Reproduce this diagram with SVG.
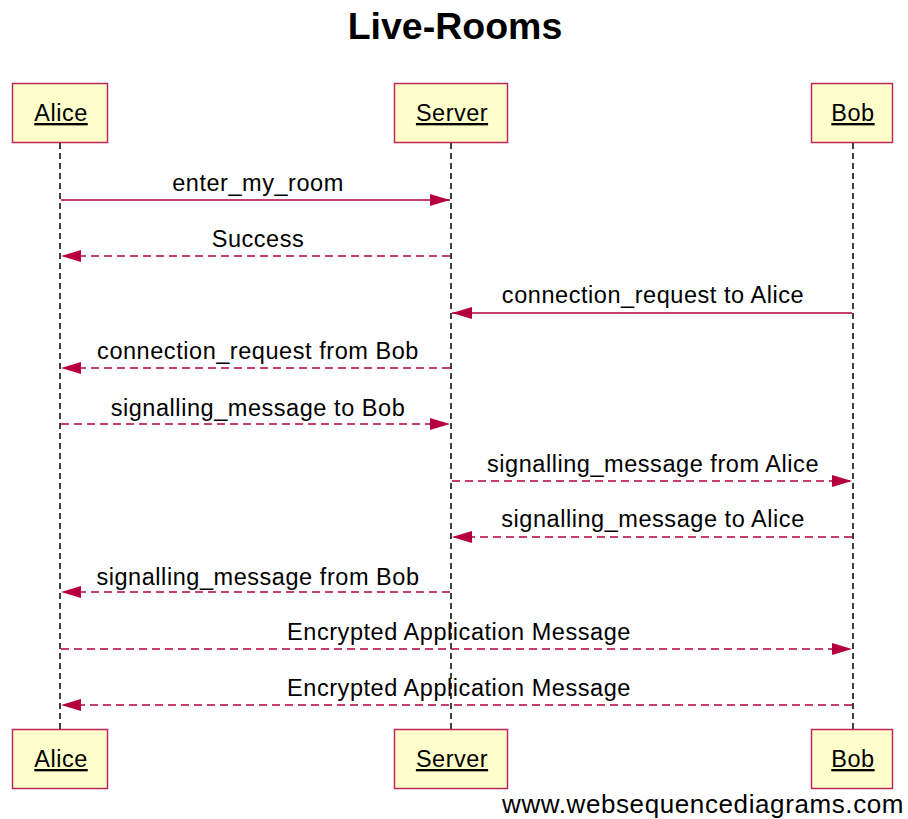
<svg xmlns="http://www.w3.org/2000/svg" width="908" height="819" viewBox="0 0 908 819">
  <style>
    text { font-family: "Liberation Sans", Arial, sans-serif; fill: #000; }
    .title { font-size: 37.5px; font-weight: bold; text-anchor: middle; }
    .actor rect { fill: #ffffcc; stroke: #c0285a; stroke-width: 1.5; }
    .actor text { font-size: 23.5px; letter-spacing: 0.5px; text-anchor: middle; text-decoration: underline; }
    .life { stroke: #000; stroke-width: 1.5; stroke-dasharray: 6 4; fill: none; }
    .msg { stroke: #b5003d; stroke-width: 1.5; fill: none; }
    .reply { stroke-dasharray: 8 5; }
    .lbl { font-size: 23.5px; letter-spacing: 0.55px; text-anchor: middle; }
    .foot { font-size: 26px; letter-spacing: 0.6px; }
  </style>
  <defs>
    <marker id="head" viewBox="0 0 20 12" refX="20" refY="6" markerWidth="20" markerHeight="12" markerUnits="userSpaceOnUse" orient="auto">
      <path d="M0,0 L20,6 L0,12 Z" fill="#b5003d"/>
    </marker>
  </defs>

  <rect width="908" height="819" fill="#fff"/>
  <text class="title" x="455" y="39">Live-Rooms</text>

  <!-- lifelines -->
  <g id="lifelines">
    <line class="life" x1="60" y1="143" x2="60" y2="729"/>
    <line class="life" x1="451" y1="143" x2="451" y2="729"/>
    <line class="life" x1="853" y1="143" x2="853" y2="729"/>
  </g>

  <!-- participants, top -->
  <g id="alice-top" class="actor">
    <rect x="12.5" y="83.5" width="95" height="59"/>
    <text x="61" y="121">Alice</text>
  </g>
  <g id="server-top" class="actor">
    <rect x="394.5" y="83.5" width="113" height="59"/>
    <text x="452" y="121">Server</text>
  </g>
  <g id="bob-top" class="actor">
    <rect x="811.5" y="83.5" width="81" height="59"/>
    <text x="853" y="121">Bob</text>
  </g>

  <!-- participants, bottom -->
  <g id="alice-bottom" class="actor">
    <rect x="12.5" y="729.5" width="95" height="59"/>
    <text x="61" y="767">Alice</text>
  </g>
  <g id="server-bottom" class="actor">
    <rect x="394.5" y="729.5" width="113" height="59"/>
    <text x="452" y="767">Server</text>
  </g>
  <g id="bob-bottom" class="actor">
    <rect x="811.5" y="729.5" width="81" height="59"/>
    <text x="853" y="767">Bob</text>
  </g>

  <!-- messages -->
  <g id="connectors">
    <line class="msg" x1="61" y1="200" x2="450" y2="200" marker-end="url(#head)"/>
    <line class="msg reply" x1="450" y1="256" x2="61" y2="256" marker-end="url(#head)"/>
    <line class="msg" x1="852" y1="313" x2="452" y2="313" marker-end="url(#head)"/>
    <line class="msg reply" x1="450" y1="368" x2="61" y2="368" marker-end="url(#head)"/>
    <line class="msg reply" x1="61" y1="424" x2="450" y2="424" marker-end="url(#head)"/>
    <line class="msg reply" x1="452" y1="481" x2="852" y2="481" marker-end="url(#head)"/>
    <line class="msg reply" x1="852" y1="537" x2="452" y2="537" marker-end="url(#head)"/>
    <line class="msg reply" x1="450" y1="592" x2="61" y2="592" marker-end="url(#head)"/>
    <line class="msg reply" x1="61" y1="649" x2="852" y2="649" marker-end="url(#head)"/>
    <line class="msg reply" x1="852" y1="705" x2="61" y2="705" marker-end="url(#head)"/>
  </g>

  <g id="labels">
    <text class="lbl" x="258" y="191">enter_my_room</text>
    <text class="lbl" x="258" y="247">Success</text>
    <text class="lbl" x="653" y="303">connection_request to Alice</text>
    <text class="lbl" x="258" y="359">connection_request from Bob</text>
    <text class="lbl" x="258" y="416">signalling_message to Bob</text>
    <text class="lbl" x="653" y="472">signalling_message from Alice</text>
    <text class="lbl" x="653" y="527">signalling_message to Alice</text>
    <text class="lbl" x="258" y="585">signalling_message from Bob</text>
    <text class="lbl" x="459" y="640">Encrypted Application Message</text>
    <text class="lbl" x="459" y="696">Encrypted Application Message</text>
  </g>

  <text class="foot" x="502" y="813">www.websequencediagrams.com</text>
</svg>
